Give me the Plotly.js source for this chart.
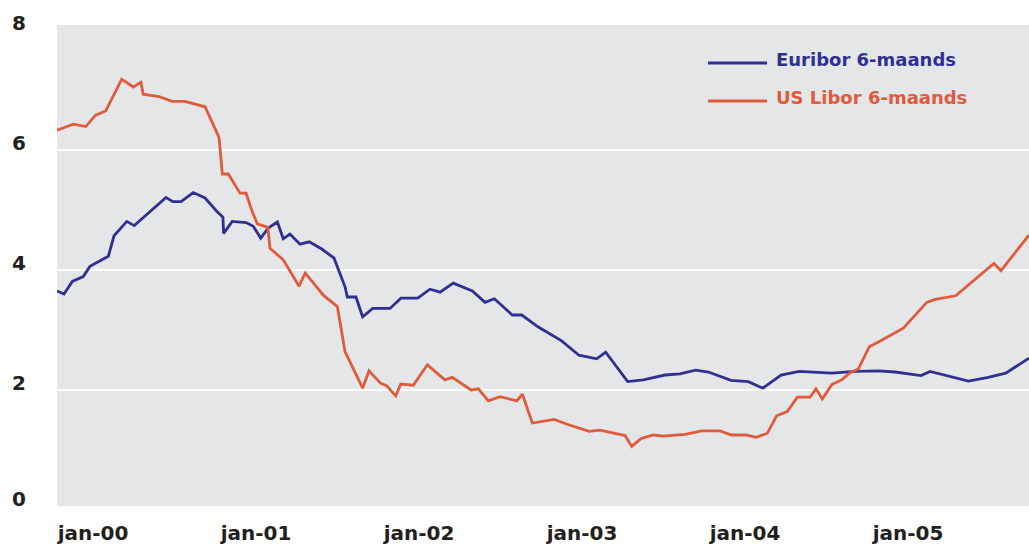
<!DOCTYPE html>
<html>
<head>
<meta charset="utf-8">
<script src="https://cdn.plot.ly/plotly-3.0.1.min.js"></script>
<style>
html,body{margin:0;padding:0;background:#fff;}
#chart{width:1029px;height:545px;}
</style>
</head>
<body>
<div id="chart"></div>
<script>
// Time in decimal years, rates in percent
const liborX = [2000.00,2000.100,2000.176,2000.237,2000.299,2000.397,2000.468,2000.515,2000.529,2000.626,
  2000.707,2000.785,2000.908,2000.994,2001.014,2001.051,2001.123,2001.160,2001.194,2001.229,
  2001.293,2001.307,2001.388,2001.485,2001.523,2001.634,2001.720,2001.767,2001.875,2001.914,
  2001.986,2002.023,2002.078,2002.109,2002.186,2002.272,2002.380,2002.425,2002.540,2002.585,
  2002.646,2002.718,2002.820,2002.855,2002.916,2003.051,2003.129,2003.264,2003.331,2003.485,
  2003.526,2003.583,2003.658,2003.720,2003.853,2003.955,2004.067,2004.139,2004.227,2004.288,
  2004.358,2004.415,2004.480,2004.542,2004.620,2004.656,2004.695,2004.753,2004.814,2004.865,
  2004.916,2004.983,2005.059,2005.192,2005.336,2005.387,2005.513,2005.748,2005.791,2005.963];
const liborY = [6.33,6.43,6.39,6.58,6.65,7.18,7.05,7.13,6.93,6.89,
  6.81,6.81,6.72,6.21,5.60,5.60,5.28,5.28,5.00,4.77,
  4.71,4.36,4.17,3.73,3.95,3.58,3.39,2.64,2.03,2.32,
  2.11,2.07,1.90,2.10,2.08,2.42,2.17,2.21,2.00,2.02,
  1.82,1.89,1.82,1.93,1.45,1.51,1.43,1.31,1.33,1.24,
  1.06,1.19,1.25,1.23,1.26,1.32,1.32,1.25,1.25,1.21,
  1.28,1.57,1.64,1.88,1.88,2.02,1.85,2.09,2.17,2.29,
  2.35,2.72,2.83,3.03,3.46,3.51,3.57,4.11,3.99,4.58];

const euriborX = [2000.00,2000.043,2000.094,2000.161,2000.202,2000.315,2000.350,2000.428,2000.474,2000.669,
  2000.710,2000.761,2000.836,2000.908,2000.980,2001.018,2001.022,2001.075,2001.160,2001.204,
  2001.250,2001.296,2001.352,2001.388,2001.429,2001.491,2001.548,2001.624,2001.699,2001.767,
  2001.781,2001.834,2001.875,2001.937,2002.043,2002.110,2002.213,2002.288,2002.350,2002.431,
  2002.548,2002.626,2002.683,2002.793,2002.851,2002.953,2003.096,2003.147,2003.202,2003.311,
  2003.366,2003.501,2003.597,2003.730,2003.822,2003.918,2003.996,2004.135,2004.241,2004.330,
  2004.442,2004.552,2004.753,2004.896,2005.039,2005.141,2005.301,2005.356,2005.591,2005.713,
  2005.820,2005.963];
const euriborY = [3.65,3.60,3.81,3.89,4.06,4.23,4.57,4.81,4.74,5.21,
  5.14,5.14,5.29,5.20,4.98,4.88,4.61,4.81,4.79,4.73,
  4.53,4.70,4.80,4.52,4.60,4.43,4.47,4.35,4.20,3.72,
  3.55,3.55,3.22,3.36,3.36,3.53,3.53,3.68,3.63,3.78,
  3.65,3.46,3.52,3.25,3.25,3.05,2.82,2.71,2.58,2.52,
  2.63,2.14,2.17,2.25,2.27,2.33,2.30,2.16,2.14,2.03,
  2.25,2.31,2.28,2.31,2.32,2.30,2.24,2.31,2.15,2.21,
  2.28,2.53];

const seriesNames = ['Euribor 6-maands', 'US Libor 6-maands'];
const xTickVals = [2000, 2001, 2002, 2003, 2004, 2005];
const xTickText = ['jan-00', 'jan-01', 'jan-02', 'jan-03', 'jan-04', 'jan-05'];
const yTickVals = [0, 2, 4, 6, 8];
const yTickText = ['0', '2', '4', '6', '8'];

const BLUE = '#2e3192';
const ORANGE = '#e05a3c';
const INK = '#231f20';
const FONT = 'DejaVu Sans, Arial, sans-serif';

const traces = [
  {x: euriborX, y: euriborY, type: 'scatter', mode: 'lines', name: seriesNames[0],
   line: {color: BLUE, width: 2.8}, showlegend: false, hoverinfo: 'skip'},
  {x: liborX, y: liborY, type: 'scatter', mode: 'lines', name: seriesNames[1],
   line: {color: ORANGE, width: 2.8}, showlegend: false, hoverinfo: 'skip'}
];

// y-axis labels as annotations (the reference prints them slightly above the gridlines)
const annotations = yTickVals.map((v, i) => {
  const inRange = v > 0;
  return {
    xref: 'paper', x: 0, xanchor: 'right', xshift: -29,
    yref: inRange ? 'y' : 'paper', y: inRange ? v : 0, yanchor: 'middle', yshift: 7,
    text: yTickText[i], showarrow: false,
    font: {family: FONT, size: 20, color: INK, weight: 'bold'}
  };
});

// manual legend
const legendRows = [
  {y: 0.921, color: BLUE, text: seriesNames[0]},
  {y: 0.842, color: ORANGE, text: seriesNames[1]}
];
const shapes = [];
legendRows.forEach(r => {
  shapes.push({type: 'line', xref: 'paper', yref: 'paper', x0: 0.6698, x1: 0.7305, y0: r.y, y1: r.y,
    line: {color: r.color, width: 2.8}});
  annotations.push({xref: 'paper', yref: 'paper', x: 0.7375, y: r.y, xanchor: 'left', yanchor: 'middle',
    yshift: 3, text: r.text, showarrow: false,
    font: {family: FONT, size: 18, color: r.color, weight: 'bold'}});
});

const layout = {
  width: 1029, height: 545,
  margin: {l: 57, r: 0, t: 25, b: 39, pad: 0},
  paper_bgcolor: '#ffffff',
  plot_bgcolor: '#e5e6e8',
  showlegend: false,
  xaxis: {
    range: [2000, 2005.963], showgrid: false, zeroline: false, showline: false,
    tickvals: xTickVals, ticktext: xTickText, ticks: '',
    ticklabelshift: 36, ticklabelstandoff: 13,
    tickfont: {family: FONT, size: 20, color: INK, weight: 'bold'}
  },
  yaxis: {
    range: [0.067, 8.083], showgrid: true, gridcolor: '#ffffff', gridwidth: 2,
    tickvals: [2, 4, 6], showticklabels: false, zeroline: false, showline: false, ticks: ''
  },
  shapes: shapes,
  annotations: annotations
};

Plotly.newPlot('chart', traces, layout, {staticPlot: true, displayModeBar: false});
</script>
</body>
</html>
